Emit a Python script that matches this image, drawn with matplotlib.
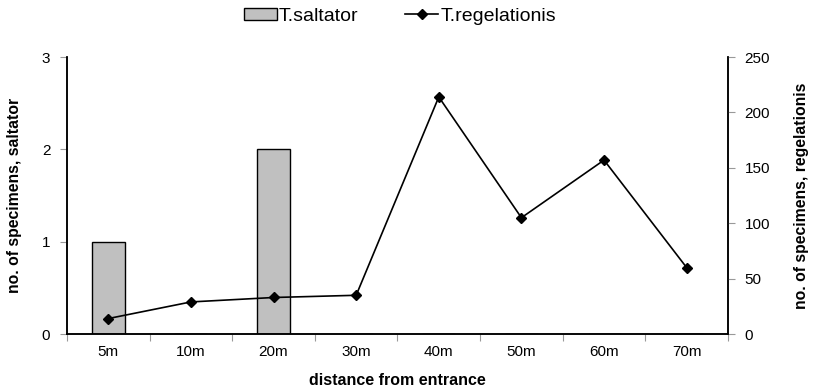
import numpy as np
import matplotlib.pyplot as plt
from matplotlib.ticker import FixedLocator, NullFormatter

plt.rcParams['font.family'] = ['Liberation Sans', 'DejaVu Sans']

categories = ['5m', '10m', '20m', '30m', '40m', '50m', '60m', '70m']
saltator = [1, 0, 2, 0, 0, 0, 0, 0]
regelationis = [14, 29, 33, 35, 214, 105, 157, 60]

fig = plt.figure(figsize=(8.13, 3.88), dpi=100)
ax = fig.add_axes([0.0824, 0.139, 0.813, 0.714])
ax2 = ax.twinx()

x = np.arange(len(categories))
bars = ax.bar(x, saltator, width=0.4, color='#c0c0c0', edgecolor='black',
              linewidth=1, label='T.saltator', zorder=2)
line, = ax2.plot(x, regelationis, color='black', linewidth=1.2, marker='D',
                 markersize=5, label='T.regelationis', zorder=3)

ax.set_xlim(-0.5, len(categories) - 0.5)
ax.set_ylim(0, 3)
ax.set_yticks([0, 1, 2, 3])
ax2.set_ylim(0, 250)
ax2.set_yticks([0, 50, 100, 150, 200, 250])

# category labels in the middle, tick marks on the borders
ax.xaxis.set_major_locator(FixedLocator(np.arange(-0.5, len(categories), 1)))
ax.xaxis.set_major_formatter(NullFormatter())
ax.xaxis.set_minor_locator(FixedLocator(x))
ax.set_xticklabels(categories, minor=True)
ax.tick_params(axis='x', which='minor', length=0, pad=8, labelsize=11)
ax.tick_params(axis='x', which='major', length=5, color='#999999', direction='out')
ax.tick_params(axis='y', length=5, color='#999999', labelsize=11, pad=7)
ax2.tick_params(axis='y', length=5, color='#999999', labelsize=11, pad=7)

for a in (ax, ax2):
    a.spines['top'].set_visible(False)
    for s in ('left', 'right', 'bottom'):
        a.spines[s].set_linewidth(1.1)
ax.patch.set_visible(False)
ax.set_zorder(ax2.get_zorder() - 1)
ax2.patch.set_visible(False)

ax.set_xlabel('distance from entrance', fontsize=11.5, fontweight='bold', labelpad=10)
ax.set_ylabel('no. of specimens, saltator', fontsize=11.3, fontweight='bold', labelpad=14)
ax2.set_ylabel('no. of specimens, regelationis', fontsize=11.3, fontweight='bold', labelpad=17)

fig.legend([bars, line], ['T.saltator', 'T.regelationis'], loc='center',
           bbox_to_anchor=(0.492, 0.958), ncol=2, frameon=False, fontsize=14,
           handlelength=1.7, handleheight=0.55, handletextpad=0.1,
           columnspacing=2.4, borderpad=0)

fig.savefig('out.png', dpi=100)
